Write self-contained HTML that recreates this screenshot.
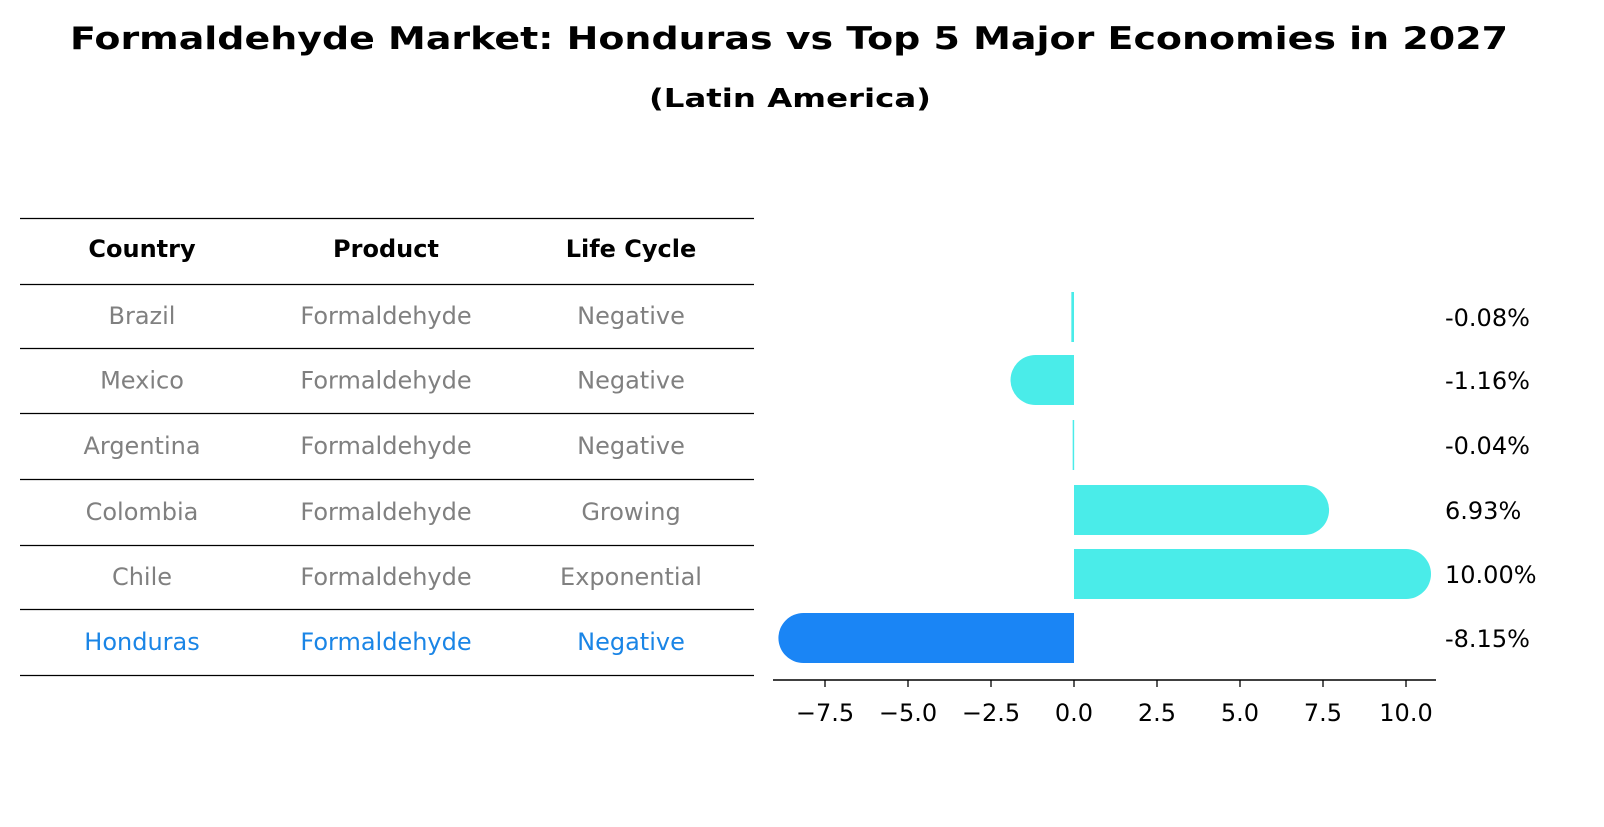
<!DOCTYPE html>
<html><head><meta charset="utf-8"><style>
body{margin:0;background:#fff;font-family:"DejaVu Sans","Liberation Sans",sans-serif;}
svg text{font-family:"DejaVu Sans","Liberation Sans",sans-serif;}
</style></head><body>
<svg width="1604" height="823" viewBox="0 0 1604 823" xmlns="http://www.w3.org/2000/svg">
<text x="789" y="49" text-anchor="middle" font-size="31" font-weight="bold" textLength="1438" lengthAdjust="spacingAndGlyphs">Formaldehyde Market: Honduras vs Top 5 Major Economies in 2027</text>
<text x="790" y="107" text-anchor="middle" font-size="26" font-weight="bold" textLength="282" lengthAdjust="spacingAndGlyphs">(Latin America)</text>
<g id="table"></g>
<g id="bars"></g>
</svg>
<script>
const countries=["Brazil","Mexico","Argentina","Colombia","Chile","Honduras"];
const products=["Formaldehyde","Formaldehyde","Formaldehyde","Formaldehyde","Formaldehyde","Formaldehyde"];
const lifecycle=["Negative","Negative","Negative","Growing","Exponential","Negative"];
const values=[-0.08,-1.16,-0.04,6.93,10.00,-8.15];
const xTicks=[-7.5,-5.0,-2.5,0.0,2.5,5.0,7.5,10.0];
const NS="http://www.w3.org/2000/svg";
const FS=24;
function mk(tag,attrs,parent){const e=document.createElementNS(NS,tag);for(const k in attrs)e.setAttribute(k,attrs[k]);parent.appendChild(e);return e;}
const tbl=document.getElementById('table');
const lineYs=[218,284,348,413,479,545,609,675];
lineYs.forEach((y,i)=>{const l=mk('line',{x1:20,x2:754,y1:y+0.5,y2:y+0.5,stroke:'#000','stroke-width':1.2},tbl);

});
const colX=[142,386,631];
["Country","Product","Life Cycle"].forEach((h,i)=>{const t=mk('text',{x:colX[i],y:257,'text-anchor':'middle','font-size':FS,'font-weight':'bold'},tbl);t.textContent=h;

});
countries.forEach((c,r)=>{const y=(lineYs[r+1]+lineYs[r+2])/2+8;const col=c==="Honduras"?"#1a85e6":"#808080";
[c,products[r],lifecycle[r]].forEach((v,i)=>{const t=mk('text',{x:colX[i],y:y,'text-anchor':'middle','font-size':FS,fill:col},tbl);t.textContent=v;

});});
const g=document.getElementById('bars');
const x0=1074,ppu=33.2;
function xs(v){return x0+v*ppu;}
const rowY=[317,380,445,510,574,638];
const h=50,rad=25;
values.forEach((v,i)=>{const yc=rowY[i],col=countries[i]==="Honduras"?"#1a85f5":"#4aece9";
const xe=xs(v);
if(Math.abs(v)<0.3){
 const p=mk('rect',{x:Math.min(x0,xe),y:yc-h/2,width:Math.max(Math.abs(xe-x0),1.5),height:h,fill:col},g);
 
 
}else{
 let d;
 if(v>=0){d=`M${x0} ${yc-h/2} L${xe} ${yc-h/2} A${rad} ${rad} 0 0 1 ${xe} ${yc+h/2} L${x0} ${yc+h/2} Z`;}
 else{d=`M${x0} ${yc-h/2} L${xe} ${yc-h/2} A${rad} ${rad} 0 0 0 ${xe} ${yc+h/2} L${x0} ${yc+h/2} Z`;}
 const p=mk('path',{d:d,fill:col},g);
 
 
}
const t=mk('text',{x:1445,y:yc+9,'font-size':FS},g);t.textContent=v.toFixed(2)+'%';

});
const ax=mk('line',{x1:773,x2:1436,y1:680,y2:680,stroke:'#000','stroke-width':1.6},g);


xTicks.forEach(v=>{const tk=mk('line',{x1:xs(v),x2:xs(v),y1:680,y2:687,stroke:'#000','stroke-width':1.3},g);


const t=mk('text',{x:xs(v),y:721,'text-anchor':'middle','font-size':FS},g);t.textContent=v.toFixed(1).replace('-','\u2212');

});
</script>
</body></html>
